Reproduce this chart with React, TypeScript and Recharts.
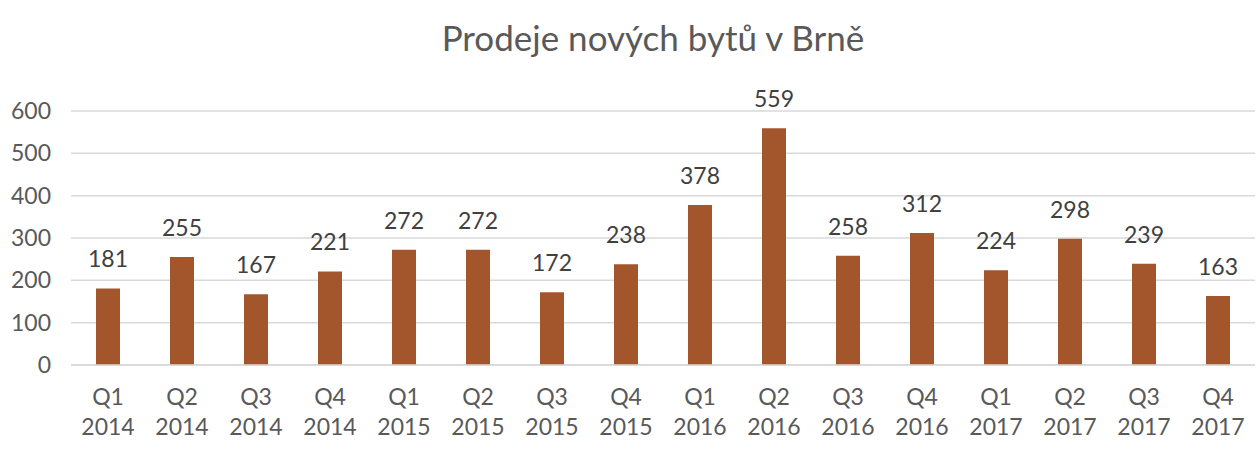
import React from 'react';
import { Bar, BarChart, CartesianGrid, LabelList, XAxis, YAxis } from 'recharts';

const quarters = ['Q1', 'Q2', 'Q3', 'Q4', 'Q1', 'Q2', 'Q3', 'Q4', 'Q1', 'Q2', 'Q3', 'Q4', 'Q1', 'Q2', 'Q3', 'Q4'];
const years = ['2014', '2014', '2014', '2014', '2015', '2015', '2015', '2015', '2016', '2016', '2016', '2016', '2017', '2017', '2017', '2017'];
const sales = [181, 255, 167, 221, 272, 272, 172, 238, 378, 559, 258, 312, 224, 298, 239, 163];
const yTicks = [0, 100, 200, 300, 400, 500, 600];

const chartData = sales.map((value, i) => ({
    label: `${quarters[i]}\n${years[i]}`,
    value,
}));

const FONT = 'Lato, "Open Sans", sans-serif';

const QuarterTick = (props: any) => {
    const { x, y, payload } = props;
    const [q, yr] = String(payload.value).split('\n');
    return (
        <g transform={`translate(${x},${y})`}>
            <text textAnchor="middle" fill="#595959" fontSize={23} fontFamily={FONT}>
                <tspan x={0} dy={32}>{q}</tspan>
                <tspan x={0} dy={30}>{yr}</tspan>
            </text>
        </g>
    );
};

export default function App() {
    return (
        <div style={{ position: 'absolute', left: 0, top: 0, width: 1256, height: 468, background: '#fff' }}>
            <div
                style={{
                    position: 'absolute',
                    top: 16,
                    left: 0,
                    width: 1306,
                    textAlign: 'center',
                    fontFamily: FONT,
                    fontSize: 35,
                    color: '#595959',
                }}
            >
                Prodeje nových bytů v Brně
            </div>
            <BarChart
                width={1256}
                height={468}
                data={chartData}
                margin={{ top: 111, right: 1, left: 8, bottom: 0 }}
            >
                <CartesianGrid vertical={false} stroke="#d9d9d9" strokeWidth={1.5} />
                <XAxis
                    dataKey="label"
                    interval={0}
                    tick={<QuarterTick />}
                    tickLine={false}
                    axisLine={{ stroke: '#d9d9d9', strokeWidth: 1.5 }}
                    height={103}
                />
                <YAxis
                    domain={[0, 600]}
                    ticks={yTicks}
                    interval={0}
                    width={63}
                    tickLine={false}
                    axisLine={false}
                    tick={{ fill: '#595959', fontSize: 23, fontFamily: FONT }}
                    tickMargin={14}
                />
                <Bar dataKey="value" fill="#A3562B" barSize={24} isAnimationActive={false}>
                    <LabelList
                        dataKey="value"
                        position="top"
                        offset={21}
                        fill="#404040"
                        fontSize={23}
                        fontFamily={FONT}
                    />
                </Bar>
            </BarChart>
        </div>
    );
}
